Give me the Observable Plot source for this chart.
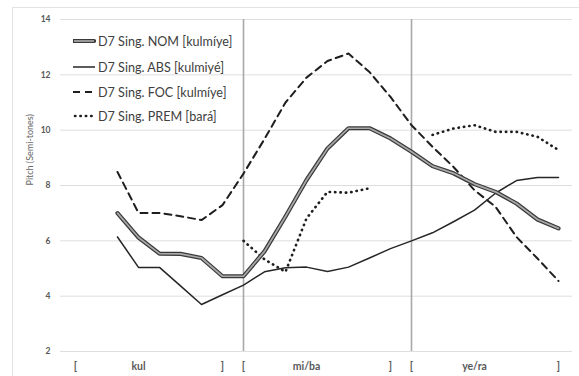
<!DOCTYPE html>
<html>
<head>
<meta charset="utf-8">
<script src="https://cdn.jsdelivr.net/npm/d3@7"></script>
<script src="https://cdn.jsdelivr.net/npm/@observablehq/plot@0.6"></script>
<style>
  html, body { margin: 0; padding: 0; background: #fff; overflow: hidden; }
  #wrap { position: relative; width: 579px; height: 376px; }
  #border { position: absolute; left: 12px; top: 7px; width: 620px; height: 420px; border: 1px solid #e3e3e3; box-sizing: border-box; }
  #legend { position: absolute; left: 73px; top: 31px; font-family: Lato, "Open Sans", sans-serif; font-size: 12.6px; color: #404040; }
  .row { position: absolute; left: 0; height: 20px; display: flex; align-items: center; white-space: nowrap; }
  .row svg { margin-right: 2px; }
</style>
</head>
<body>
<div id="wrap">
  <div id="border"></div>
  <div id="chart"></div>
  <div id="legend"></div>
</div>
<script>
// Category positions along the x axis (24 slots)
const slots = d3.range(24);
const tickSlots = [0, 3, 7, 8, 11, 15, 16, 19, 23];
const tickLabels = ["[", "kul", "]", "[", "mi/ba", "]", "[", "ye/ra", "]"];
const separators = [8, 16];

const seriesNames = [
  "D7 Sing. NOM [kulmíye]",
  "D7 Sing. ABS [kulmiyé]",
  "D7 Sing. FOC [kulmíye]",
  "D7 Sing. PREM [bará]"
];

// values per slot (null = no value)
const nom = [null, null, 7.0, 6.12, 5.54, 5.53, 5.38, 4.72, 4.72, 5.62, 6.88, 8.2, 9.34, 10.07, 10.07, 9.7, 9.22, 8.7, 8.44, 8.05, 7.77, 7.35, 6.77, 6.45];
const abs = [null, null, 6.14, 5.04, 5.04, 4.37, 3.70, 4.05, 4.40, 4.88, 5.03, 5.05, 4.89, 5.05, 5.38, 5.72, 6.0, 6.29, 6.69, 7.11, 7.72, 8.18, 8.29, 8.29];
const foc = [null, null, 8.49, 7.01, 7.01, 6.89, 6.75, 7.29, 8.43, 9.68, 11.0, 11.9, 12.5, 12.77, 12.1, 11.2, 10.18, 9.4, 8.67, 7.83, 7.23, 6.14, 5.36, 4.55];
const prem = [null, null, null, null, null, null, null, null, 6.0, 5.33, 4.88, 6.81, 7.77, 7.74, 7.9, null, null, 9.83, 10.06, 10.18, 9.94, 9.94, 9.76, 9.28];

const yTicks = [2, 4, 6, 8, 10, 12, 14];

const toRows = (vals) => slots.map((i) => ({x: i, y: vals[i]}));

const tickText = new Map(tickSlots.map((s, k) => [s, tickLabels[k]]));

const font = 'Lato, "Open Sans", sans-serif';

const chart = Plot.plot({
  width: 579,
  height: 376,
  marginTop: 19,
  marginBottom: 25,
  marginLeft: 60,
  marginRight: 7,
  style: {fontFamily: font, background: "transparent"},
  x: {type: "point", domain: slots, padding: 0.5},
  y: {domain: [2, 14]},
  marks: [
    Plot.gridY(yTicks, {stroke: "#dedede", strokeOpacity: 1, strokeWidth: 1}),
    Plot.ruleX(separators, {stroke: "#a8a8a8", strokeWidth: 1.6}),
    Plot.axisY(yTicks, {tickSize: 0, tickPadding: 10, label: null, fill: "#595959", fontWeight: "bold", fontSize: 8.5}),
    Plot.axisX(tickSlots, {tickSize: 0, tickPadding: 11, label: null, tickFormat: (d) => tickText.get(d), fill: "#595959", fontWeight: "bold", fontSize: 10.5}),
    Plot.text(["Pitch (Semi-tones)"], {frameAnchor: "left", rotate: -90, dx: -30, fill: "#666666", fontSize: 9}),
    Plot.line(toRows(foc), {x: "x", y: "y", stroke: "#1e1e1e", strokeWidth: 2, strokeDasharray: "7,5"}),
    Plot.line(toRows(prem), {x: "x", y: "y", stroke: "#1e1e1e", strokeWidth: 2.6, strokeDasharray: "0.4,5", strokeLinecap: "round"}),
    Plot.line(toRows(abs), {x: "x", y: "y", stroke: "#262626", strokeWidth: 1.5, strokeLinejoin: "round"}),
    Plot.line(toRows(nom), {x: "x", y: "y", stroke: "#3a3a3a", strokeWidth: 4.2, strokeLinejoin: "round"}),
    Plot.line(toRows(nom), {x: "x", y: "y", stroke: "#a9a9a9", strokeWidth: 1.7, strokeLinejoin: "round"})
  ]
});
document.getElementById("chart").appendChild(chart);

// Legend
const swatches = [
  () => `<line x1="1" y1="5" x2="21" y2="5" stroke="#3a3a3a" stroke-width="4.2" stroke-linecap="round"/><line x1="1" y1="5" x2="21" y2="5" stroke="#a9a9a9" stroke-width="1.7"/>`,
  () => `<line x1="0" y1="5" x2="22" y2="5" stroke="#262626" stroke-width="1.5"/>`,
  () => `<line x1="0" y1="5" x2="22" y2="5" stroke="#1e1e1e" stroke-width="2" stroke-dasharray="7,5"/>`,
  () => `<line x1="2" y1="5" x2="22" y2="5" stroke="#1e1e1e" stroke-width="2.6" stroke-dasharray="0.4,5" stroke-linecap="round"/>`
];
const rowTops = [0, 26, 51, 75];
const legend = document.getElementById("legend");
seriesNames.forEach((name, k) => {
  const row = document.createElement("div");
  row.className = "row";
  row.style.top = rowTops[k] + "px";
  row.innerHTML = `<svg width="23" height="10">${swatches[k]()}</svg><span>${name}</span>`;
  legend.appendChild(row);
});
</script>
</body>
</html>
